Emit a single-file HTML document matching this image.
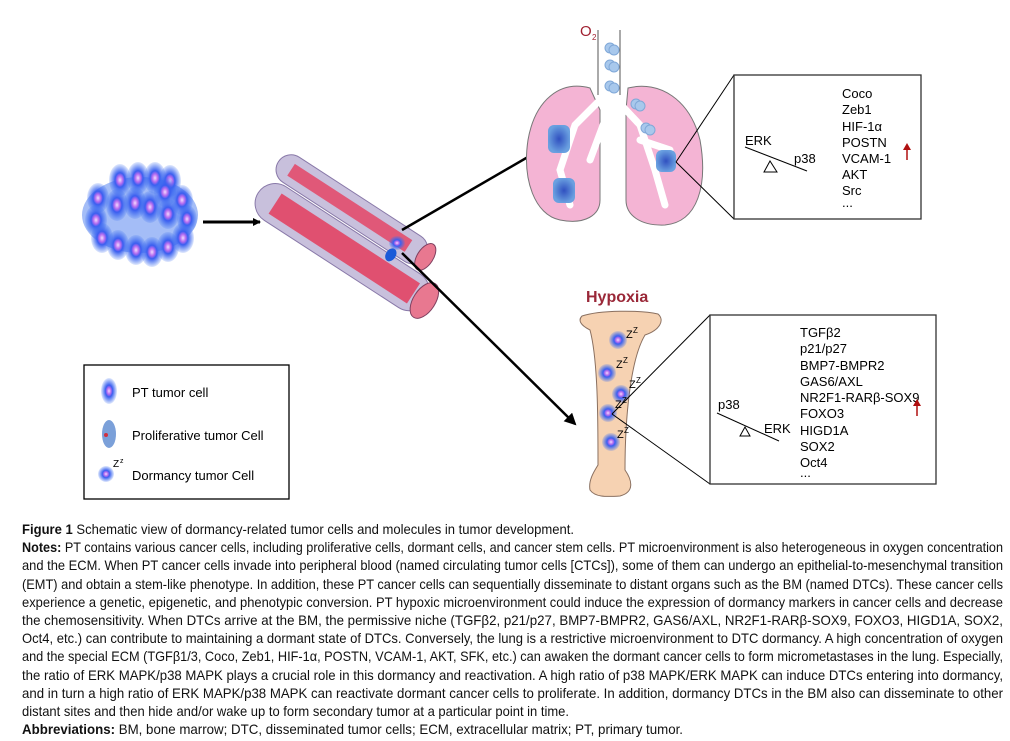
<!DOCTYPE html>
<html><head><meta charset="utf-8"><style>
html,body{margin:0;padding:0;background:#fff;}
svg{display:block;font-family:"Liberation Sans",sans-serif;}
</style></head><body>
<svg width="1010" height="741" viewBox="0 0 1010 741" xmlns="http://www.w3.org/2000/svg">
<defs>
<radialGradient id="cell" cx="50%" cy="50%" r="50%">
<stop offset="0" stop-color="#f4d8ff"/><stop offset="0.25" stop-color="#b56cf0"/><stop offset="0.45" stop-color="#3a5ef0"/><stop offset="1" stop-color="#3a6ef0" stop-opacity="0.15"/>
</radialGradient>
<radialGradient id="lc" cx="50%" cy="50%" r="50%"><stop offset="0" stop-color="#3050c0"/><stop offset="1" stop-color="#6aa0e0"/></radialGradient>
<marker id="ah" markerWidth="8" markerHeight="8" refX="7" refY="4" orient="auto" markerUnits="userSpaceOnUse"><path d="M0,0 L8,4 L0,8z" fill="#000"/></marker>
<marker id="ah2" markerWidth="12" markerHeight="12" refX="10" refY="6" orient="auto" markerUnits="userSpaceOnUse"><path d="M0,0 L12,6 L0,12z" fill="#000"/></marker>
</defs>

<!-- tumor cluster -->
<g>
<ellipse cx="140" cy="215" rx="58" ry="38" fill="#4a7cf0" opacity="0.5"/>
<g fill="url(#cell)">
<ellipse cx="120" cy="180" rx="11" ry="16"/><ellipse cx="138" cy="178" rx="11" ry="16"/><ellipse cx="155" cy="178" rx="11" ry="16"/><ellipse cx="170" cy="181" rx="11" ry="16"/>
<ellipse cx="98" cy="198" rx="11" ry="15"/><ellipse cx="165" cy="192" rx="11" ry="15"/><ellipse cx="182" cy="200" rx="11" ry="15"/>
<ellipse cx="117" cy="205" rx="11" ry="16"/><ellipse cx="135" cy="203" rx="11" ry="16"/><ellipse cx="150" cy="207" rx="11" ry="16"/><ellipse cx="168" cy="214" rx="11" ry="15"/><ellipse cx="187" cy="219" rx="10" ry="14"/>
<ellipse cx="96" cy="220" rx="11" ry="15"/><ellipse cx="102" cy="238" rx="11" ry="15"/><ellipse cx="118" cy="245" rx="11" ry="15"/><ellipse cx="136" cy="250" rx="11" ry="15"/><ellipse cx="152" cy="252" rx="11" ry="15"/><ellipse cx="168" cy="247" rx="11" ry="15"/><ellipse cx="183" cy="238" rx="11" ry="15"/>
</g>
</g>
<line x1="203" y1="222" x2="260" y2="222" stroke="#000" stroke-width="3" marker-end="url(#ah)"/>

<!-- vessel -->
<g transform="translate(352,232) rotate(33)">
<rect x="-100" y="-34" width="175" height="30" rx="15" fill="#c8c0dc" stroke="#8878a8"/>
<rect x="-85" y="-26" width="140" height="14" fill="#e05878"/>
<rect x="-100" y="-2" width="200" height="40" rx="20" fill="#c8c0dc" stroke="#8878a8"/>
<rect x="-80" y="6" width="165" height="24" fill="#e05070"/>
<ellipse cx="98" cy="18" rx="11" ry="20" fill="#e87890" stroke="#804060"/>
<ellipse cx="75" cy="-19" rx="8" ry="15" fill="#e87890" stroke="#804060"/>
<ellipse cx="45" cy="-2" rx="5" ry="7" fill="#1a5ad8"/>
</g>
<ellipse cx="397" cy="243" rx="8" ry="7" fill="url(#cell)"/>
<line x1="402" y1="230" x2="552" y2="143" stroke="#000" stroke-width="2.5" marker-end="url(#ah2)"/>
<line x1="402" y1="253" x2="575" y2="424" stroke="#000" stroke-width="2.5" marker-end="url(#ah2)"/>

<!-- lungs -->
<text x="580" y="36" font-size="15" fill="#a02030">O</text><text x="592" y="40" font-size="8" fill="#a02030">2</text>
<path d="M590,88 C560,80 535,100 528,140 C522,180 535,215 560,220 C585,225 600,215 600,200 L600,110 Z" fill="#f4b4d4" stroke="#777"/>
<path d="M628,88 C660,80 690,100 700,140 C708,185 698,222 665,225 C640,226 626,215 626,200 L626,110 Z" fill="#f4b4d4" stroke="#777"/>
<path d="M605,95 L575,125 L560,170 L570,205 M605,120 L590,160 M612,95 L640,125 L655,170 L665,205 M640,140 L670,150" stroke="#fff" stroke-width="7" fill="none" stroke-linecap="round"/>
<path d="M600,30 L600,95 L618,95 L618,30" fill="#fff"/>
<path d="M598,30 L598,95 M620,30 L620,95" fill="none" stroke="#555" stroke-width="1"/>
<g fill="#a8c8ec" stroke="#80a8d8">
<circle cx="610" cy="48" r="5"/><circle cx="614" cy="50" r="5"/><circle cx="610" cy="65" r="5"/><circle cx="614" cy="67" r="5"/>
<circle cx="610" cy="86" r="5"/><circle cx="614" cy="88" r="5"/><circle cx="636" cy="104" r="5"/><circle cx="640" cy="106" r="5"/><circle cx="646" cy="128" r="5"/><circle cx="650" cy="130" r="5"/>
</g>
<rect x="548" y="125" width="22" height="28" rx="6" fill="url(#lc)"/>
<rect x="553" y="178" width="22" height="25" rx="6" fill="url(#lc)"/>
<rect x="656" y="150" width="20" height="22" rx="6" fill="url(#lc)"/>
<line x1="676" y1="162" x2="734" y2="75" stroke="#000"/>
<line x1="676" y1="162" x2="734" y2="219" stroke="#000"/>
<rect x="734" y="75" width="187" height="144" fill="#fff" stroke="#333" stroke-width="1.3"/>
<g font-size="13" fill="#000">
<text x="842" y="98">Coco</text><text x="842" y="114">Zeb1</text><text x="842" y="131">HIF-1α</text><text x="842" y="147">POSTN</text><text x="842" y="163">VCAM-1</text><text x="842" y="179">AKT</text><text x="842" y="195">Src</text><text x="842" y="207">...</text>
<text x="745" y="145">ERK</text><text x="794" y="163">p38</text>
</g>
<line x1="745" y1="147" x2="807" y2="171" stroke="#000"/>
<path d="M770,161 L764,172 L777,172Z" fill="#fff" stroke="#000"/>
<line x1="907" y1="160" x2="907" y2="148" stroke="#b01010" stroke-width="1.5"/><path d="M903,150 L907,143 L911,150Z" fill="#b01010"/>

<!-- bone -->
<text x="586" y="302" font-size="16" font-weight="bold" fill="#9a2838">Hypoxia</text>
<path d="M582,316 C600,310 640,310 658,314 C665,320 660,330 645,335 C630,360 625,420 625,470 C632,480 635,492 620,496 C605,497 595,497 590,490 C588,480 595,470 598,465 C598,420 598,360 590,330 C580,325 578,320 582,316Z" fill="#f6d2b2" stroke="#8a7060"/>
<g fill="url(#cell)">
<circle cx="618" cy="340" r="9"/><circle cx="607" cy="373" r="9"/><circle cx="621" cy="394" r="9"/><circle cx="608" cy="413" r="9"/><circle cx="611" cy="442" r="9"/>
</g>
<g font-size="11"><text x="626" y="338">Z</text><text x="633" y="333" font-size="8">Z</text>
<text x="616" y="368">Z</text><text x="623" y="363" font-size="8">Z</text>
<text x="629" y="388">Z</text><text x="636" y="383" font-size="8">Z</text>
<text x="615" y="408">Z</text><text x="622" y="403" font-size="8">Z</text>
<text x="617" y="438">Z</text><text x="624" y="433" font-size="8">Z</text></g>
<line x1="612" y1="414" x2="710" y2="315" stroke="#000"/>
<line x1="612" y1="414" x2="710" y2="484" stroke="#000"/>
<rect x="710" y="315" width="226" height="169" fill="#fff" stroke="#333" stroke-width="1.3"/>
<g font-size="13" fill="#000">
<text x="800" y="337">TGFβ2</text><text x="800" y="353">p21/p27</text><text x="800" y="370">BMP7-BMPR2</text><text x="800" y="386">GAS6/AXL</text><text x="800" y="402">NR2F1-RARβ-SOX9</text><text x="800" y="418">FOXO3</text><text x="800" y="435">HIGD1A</text><text x="800" y="451">SOX2</text><text x="800" y="467">Oct4</text><text x="800" y="477">...</text>
<text x="718" y="409">p38</text><text x="764" y="433">ERK</text>
</g>
<line x1="717" y1="413" x2="779" y2="441" stroke="#000"/>
<path d="M745,427 L740,436 L750,436Z" fill="#fff" stroke="#000"/>
<line x1="917" y1="416" x2="917" y2="404" stroke="#b01010" stroke-width="1.5"/><path d="M913,406 L917,399 L921,406Z" fill="#b01010"/>

<!-- legend -->
<rect x="84" y="365" width="205" height="134" fill="#fff" stroke="#000" stroke-width="1.3"/>
<ellipse cx="109" cy="391" rx="8" ry="13" fill="url(#cell)"/>
<ellipse cx="109" cy="434" rx="7" ry="14" fill="#5a88d0" opacity="0.8"/><circle cx="106" cy="435" r="2" fill="#d03040"/>
<circle cx="106" cy="474" r="8" fill="url(#cell)"/>
<text x="113" y="467" font-size="10">Z</text><text x="120" y="463" font-size="7">z</text>
<g font-size="13"><text x="132" y="397">PT tumor cell</text><text x="132" y="440">Proliferative tumor Cell</text><text x="132" y="480">Dormancy tumor Cell</text></g>

<!-- caption -->
<g font-size="14" fill="#111">
<text x="22" y="534" textLength="552" lengthAdjust="spacingAndGlyphs"><tspan font-weight="bold">Figure 1</tspan> Schematic view of dormancy-related tumor cells and molecules in tumor development.</text>
<text x="22" y="552" textLength="981" lengthAdjust="spacingAndGlyphs"><tspan font-weight="bold">Notes:</tspan> PT contains various cancer cells, including proliferative cells, dormant cells, and cancer stem cells. PT microenvironment is also heterogeneous in oxygen concentration</text>
<text x="22" y="570" textLength="981" lengthAdjust="spacingAndGlyphs">and the ECM. When PT cancer cells invade into peripheral blood (named circulating tumor cells [CTCs]), some of them can undergo an epithelial-to-mesenchymal transition</text>
<text x="22" y="589" textLength="981" lengthAdjust="spacingAndGlyphs">(EMT) and obtain a stem-like phenotype. In addition, these PT cancer cells can sequentially disseminate to distant organs such as the BM (named DTCs). These cancer cells</text>
<text x="22" y="607" textLength="981" lengthAdjust="spacingAndGlyphs">experience a genetic, epigenetic, and phenotypic conversion. PT hypoxic microenvironment could induce the expression of dormancy markers in cancer cells and decrease</text>
<text x="22" y="625" textLength="981" lengthAdjust="spacingAndGlyphs">the chemosensitivity. When DTCs arrive at the BM, the permissive niche (TGFβ2, p21/p27, BMP7-BMPR2, GAS6/AXL, NR2F1-RARβ-SOX9, FOXO3, HIGD1A, SOX2,</text>
<text x="22" y="643" textLength="981" lengthAdjust="spacingAndGlyphs">Oct4, etc.) can contribute to maintaining a dormant state of DTCs. Conversely, the lung is a restrictive microenvironment to DTC dormancy. A high concentration of oxygen</text>
<text x="22" y="661" textLength="981" lengthAdjust="spacingAndGlyphs">and the special ECM (TGFβ1/3, Coco, Zeb1, HIF-1α, POSTN, VCAM-1, AKT, SFK, etc.) can awaken the dormant cancer cells to form micrometastases in the lung. Especially,</text>
<text x="22" y="680" textLength="981" lengthAdjust="spacingAndGlyphs">the ratio of ERK MAPK/p38 MAPK plays a crucial role in this dormancy and reactivation. A high ratio of p38 MAPK/ERK MAPK can induce DTCs entering into dormancy,</text>
<text x="22" y="698" textLength="981" lengthAdjust="spacingAndGlyphs">and in turn a high ratio of ERK MAPK/p38 MAPK can reactivate dormant cancer cells to proliferate. In addition, dormancy DTCs in the BM also can disseminate to other</text>
<text x="22" y="716" textLength="547" lengthAdjust="spacingAndGlyphs">distant sites and then hide and/or wake up to form secondary tumor at a particular point in time.</text>
<text x="22" y="734" textLength="661" lengthAdjust="spacingAndGlyphs"><tspan font-weight="bold">Abbreviations:</tspan> BM, bone marrow; DTC, disseminated tumor cells; ECM, extracellular matrix; PT, primary tumor.</text>
</g>
</svg>
</body></html>
